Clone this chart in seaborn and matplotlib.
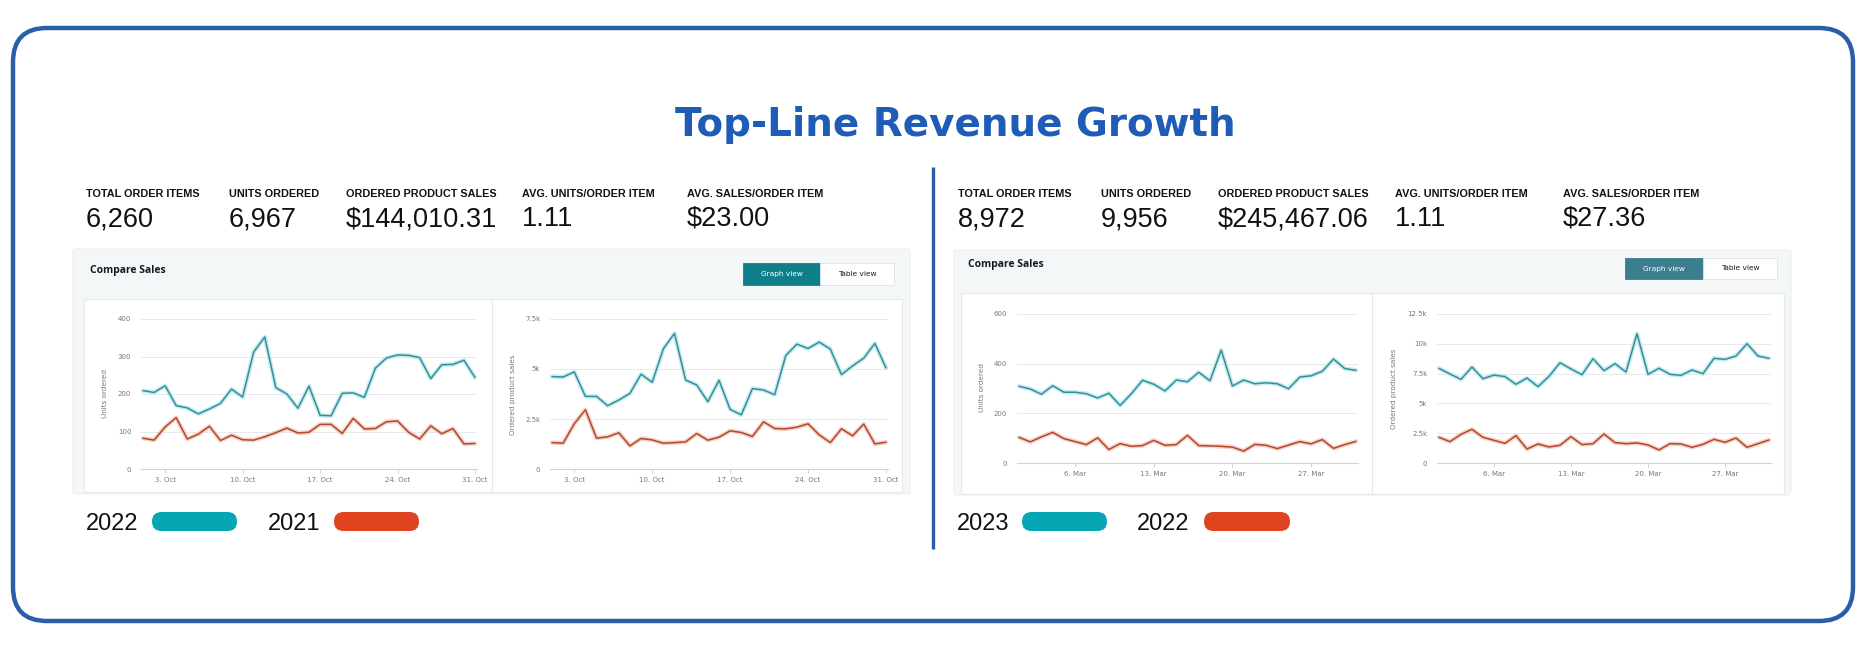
import pandas as pd
import matplotlib
matplotlib.use("Agg")
import matplotlib.pyplot as plt
import matplotlib.patheffects as pe
from matplotlib.patches import FancyBboxPatch, Rectangle
from matplotlib.ticker import FuncFormatter
import seaborn as sns

# datos
oct_dias = pd.date_range("2022-10-01", "2022-10-31", freq="D")
mar_dias = pd.date_range("2023-03-01", "2023-03-31", freq="D")

oct_units_2022 = [209, 204, 222, 169, 163, 147, 160, 175, 213, 192, 312, 352, 217, 200, 162, 221,
                  143, 142, 202, 203, 191, 269, 296, 304, 303, 297, 241, 278, 279, 290, 244]
oct_units_2021 = [82, 77, 112, 137, 80, 93, 114, 76, 90, 78, 77, 86, 97, 109, 96, 98,
                  119, 119, 95, 135, 107, 108, 126, 128, 98, 80, 115, 94, 108, 67, 68]
oct_sales_2022 = [4620, 4600, 4855, 3630, 3630, 3165, 3450, 3780, 4740, 4335, 6010, 6780, 4450, 4200, 3365, 4435,
                  2980, 2710, 4020, 3950, 3715, 5675, 6245, 6025, 6345, 5995, 4720, 5155, 5540, 6280, 5055]
oct_sales_2021 = [1320, 1290, 2260, 2965, 1540, 1610, 1810, 1155, 1525, 1455, 1290, 1320, 1355, 1775, 1440, 1590,
                  1910, 1825, 1625, 2360, 2025, 2010, 2090, 2260, 1710, 1320, 2010, 1660, 2245, 1255, 1340]
mar_units_2023 = [309, 298, 277, 311, 285, 285, 279, 262, 281, 232, 279, 333, 317, 290, 334, 327,
                  365, 331, 454, 310, 334, 319, 323, 319, 299, 346, 351, 369, 418, 380, 373]
mar_units_2022 = [104, 86, 106, 124, 99, 87, 75, 102, 55, 79, 68, 71, 92, 72, 75, 112,
                  71, 70, 68, 65, 49, 76, 72, 59, 73, 87, 78, 95, 60, 75, 88]
mar_sales_2023 = [7935, 7460, 7015, 8045, 7070, 7375, 7240, 6600, 7125, 6405, 7265, 8405, 7880, 7405, 8740, 7740,
                  8325, 7630, 10830, 7435, 7935, 7435, 7350, 7795, 7490, 8770, 8685, 8965, 9995, 8965, 8770]
mar_sales_2022 = [2170, 1810, 2420, 2840, 2170, 1920, 1670, 2310, 1195, 1615, 1365, 1505, 2225, 1560, 1640, 2450,
                  1725, 1640, 1700, 1530, 1115, 1640, 1615, 1335, 1585, 2005, 1755, 2115, 1335, 1640, 1950]

kpi_nombres = ["TOTAL ORDER ITEMS", "UNITS ORDERED", "ORDERED PRODUCT SALES",
               "AVG. UNITS/ORDER ITEM", "AVG. SALES/ORDER ITEM"]
kpi_izq = ["6,260", "6,967", "$144,010.31", "1.11", "$23.00"]
kpi_der = ["8,972", "9,956", "$245,467.06", "1.11", "$27.36"]
anios_izq = ["2022", "2021"]
anios_der = ["2023", "2022"]

sns.set_theme(style="white")
plt.rcParams['font.family'] = ['DejaVu Sans']

W, H = 1870, 652
AZUL = "#2a5ea9"
TEAL = "#368f98"
ROJO = "#b3472c"
TEAL_PILL = "#07a6b5"
ROJO_PILL = "#e0431f"

fig = plt.figure(figsize=(W / 100, H / 100), dpi=100)
fig.patch.set_facecolor("white")

# ejes de fondo en pixeles
bg = fig.add_axes([0, 0, 1, 1])
bg.set_xlim(0, W)
bg.set_ylim(H, 0)
bg.axis("off")


def caja(x0, y0, x1, y1, **kw):
    bg.add_patch(Rectangle((x0, y0), x1 - x0, y1 - y0, **kw))


def redondo(x0, y0, x1, y1, r, **kw):
    bg.add_patch(FancyBboxPatch((x0, y0), x1 - x0, y1 - y0,
                                boxstyle=f"round,pad=0,rounding_size={r}", **kw))


# borde exterior y titulo
redondo(13, 28, 1853, 621, 34, facecolor="white", edgecolor=AZUL, linewidth=3.2)
bg.text(955, 136, "Top-Line Revenue Growth", ha="center", va="baseline",
        fontsize=28, fontweight="bold", color="#1f5cb8", family=["DejaVu Sans"])
bg.plot([933, 933], [167, 549], color=AZUL, linewidth=2.4, solid_capstyle="butt")

# indicadores
kpi_x_izq = [86, 229, 346, 522, 687]
kpi_x_der = [958, 1101, 1218, 1395, 1563]
for xs, vals in [(kpi_x_izq, kpi_izq), (kpi_x_der, kpi_der)]:
    for x, nombre, val in zip(xs, kpi_nombres, vals):
        bg.text(x, 197, nombre, ha="left", va="baseline", fontsize=7.8, fontweight="bold",
                color="#111111", family=["Liberation Sans", "DejaVu Sans"])
        bg.text(x, 226, val, ha="left", va="baseline", fontsize=19.5, color="#111111",
                family=["Liberation Sans", "DejaVu Sans"])

# paneles grises "Compare Sales"
paneles = [
    dict(panel=(73, 249, 910, 494), cajas=[(84, 299, 492, 492), (492, 299, 902, 492)],
         titulo=(90, 270), boton=(743, 263, 820, 285, 894), color_boton="#107f8c"),
    dict(panel=(954, 250, 1791, 495), cajas=[(961, 293, 1372, 494), (1372, 293, 1784, 494)],
         titulo=(968, 264), boton=(1625, 258, 1703, 279, 1777), color_boton="#3b7e8e"),
]
for p in paneles:
    x0, y0, x1, y1 = p["panel"]
    redondo(x0, y0, x1, y1, 4, facecolor="#f4f7f8", edgecolor="#eceff1", linewidth=0.8)
    for c in p["cajas"]:
        caja(*c, facecolor="white", edgecolor="#e6e9eb", linewidth=0.8)
    tx, ty = p["titulo"]
    bg.text(tx, ty, "Compare Sales", ha="left", va="center", fontsize=7.5, fontweight="bold",
            color="#16191f", family=["Open Sans", "DejaVu Sans"])
    bx0, by0, bx1, by1, bx2 = p["boton"]
    caja(bx0, by0, bx1, by1, facecolor=p["color_boton"], edgecolor=p["color_boton"], linewidth=0.6)
    caja(bx1, by0, bx2, by1, facecolor="white", edgecolor="#dfe3e6", linewidth=0.6)
    bg.text((bx0 + bx1) / 2, (by0 + by1) / 2, "Graph view", ha="center", va="center",
            fontsize=5.3, color="white")
    bg.text((bx1 + bx2) / 2, (by0 + by1) / 2, "Table view", ha="center", va="center",
            fontsize=5.3, color="#16191f")

# leyendas
for (tx, px0, px1), anio, col in [((86, 152, 237), anios_izq[0], TEAL_PILL),
                                  ((268, 334, 419), anios_izq[1], ROJO_PILL),
                                  ((957, 1022, 1107), anios_der[0], TEAL_PILL),
                                  ((1137, 1204, 1290), anios_der[1], ROJO_PILL)]:
    bg.text(tx, 530, anio, ha="left", va="baseline", fontsize=17, color="#111111",
            family=["Liberation Sans", "DejaVu Sans"])
    redondo(px0, 512, px1, 531, 9.5, facecolor=col, edgecolor="none")


def formato_k(v, pos):
    if v == 0:
        return "0"
    s = f"{v / 1000:.1f}".rstrip("0").rstrip(".")
    return s + "k"


def grafico(rect, dias, actual, previo, ymax, paso, etiqueta, lab_xy, ticks_dias, en_k):
    x0, y0, x1, y1 = rect
    ax = fig.add_axes([x0 / W, 1 - y1 / H, (x1 - x0) / W, (y1 - y0) / H])
    ax.set_facecolor("none")
    df = pd.DataFrame({"fecha": dias, "actual": actual, "previo": previo})
    largo = df.melt("fecha", var_name="serie", value_name="valor")
    sns.lineplot(data=largo, x="fecha", y="valor", hue="serie", hue_order=["actual", "previo"],
                 palette={"actual": TEAL, "previo": ROJO}, linewidth=1.1, legend=False, ax=ax)
    for linea, brillo in zip(ax.lines, ["#c6ecf1", "#f5d2c7"]):
        linea.set_path_effects([pe.Stroke(linewidth=3.2, foreground=brillo), pe.Normal()])
    ax.set_xlim(dias[0] - pd.Timedelta(days=0.18), dias[-1] + pd.Timedelta(days=0.18))
    ax.set_ylim(0, ymax)
    yt = list(range(0, ymax + 1, paso))
    ax.set_yticks(yt)
    if en_k:
        ax.yaxis.set_major_formatter(FuncFormatter(formato_k))
    ax.yaxis.grid(True, color="#e7e9eb", linewidth=0.7)
    ax.set_axisbelow(True)
    fechas_t = [d for d in dias if d.day in ticks_dias]
    ax.set_xticks(fechas_t)
    ax.set_xticklabels([f"{d.day}. {d.strftime('%b')}" for d in fechas_t])
    for s in ["top", "right", "left"]:
        ax.spines[s].set_visible(False)
    ax.spines["bottom"].set_color("#cfd4d8")
    ax.spines["bottom"].set_linewidth(0.8)
    ax.tick_params(axis="y", length=0, labelsize=5, labelcolor="#777777", pad=7)
    ax.tick_params(axis="x", length=3, width=0.7, color="#cfd4d8", labelsize=5,
                   labelcolor="#777777", pad=2.5, bottom=True)
    ax.set_xlabel("")
    ax.set_ylabel("")
    bg.text(lab_xy[0], lab_xy[1], etiqueta, rotation=90, ha="center", va="center",
            fontsize=5.2, color="#777777")
    return ax


grafico((141, 319, 477, 469), oct_dias, oct_units_2022, oct_units_2021, 400, 100,
        "Units ordered", (105, 393), [3, 10, 17, 24, 31], False)
grafico((550, 319, 888, 469), oct_dias, oct_sales_2022, oct_sales_2021, 7500, 2500,
        "Ordered product sales", (513, 395), [3, 10, 17, 24, 31], True)
grafico((1017, 313.7, 1358, 463.3), mar_dias, mar_units_2023, mar_units_2022, 600, 200,
        "Units ordered", (982, 388), [6, 13, 20, 27], False)
grafico((1437, 313.7, 1771, 463.3), mar_dias, mar_sales_2023, mar_sales_2022, 12500, 2500,
        "Ordered product sales", (1394, 389), [6, 13, 20, 27], True)

fig.savefig("out.png", dpi=100, facecolor="white")
